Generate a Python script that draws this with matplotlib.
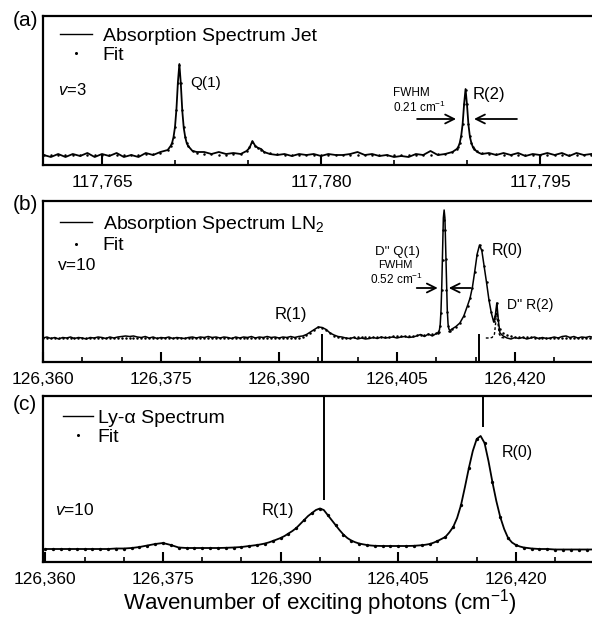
import matplotlib
matplotlib.use('Agg')
import matplotlib.pyplot as plt
from matplotlib.ticker import MultipleLocator, FuncFormatter
from matplotlib.lines import Line2D

plt.rcParams['font.family'] = ['Liberation Sans', 'DejaVu Sans']
plt.rcParams['mathtext.fontset'] = 'custom'
plt.rcParams['mathtext.rm'] = 'Liberation Sans'
plt.rcParams['mathtext.it'] = 'Liberation Sans:italic'
plt.rcParams['mathtext.bf'] = 'Liberation Sans:bold'

# ---------------- Panel (a): jet absorption, v=3 ----------------
wn_a = [117761.0, 117761.5, 117762.0, 117762.5, 117763.0, 117763.5, 117764.0, 117764.5, 117765.0, 117765.5,
        117766.0, 117766.5, 117767.0, 117767.5, 117768.0, 117768.5, 117769.0, 117769.5,
        117769.7, 117769.8, 117769.9, 117770.0, 117770.1, 117770.2, 117770.3, 117770.4, 117770.5, 117770.6,
        117770.7, 117770.8, 117770.9,
        117771.2, 117771.5,
        117772.0, 117772.5, 117773.0, 117773.5, 117774.0, 117774.5,
        117774.9, 117775.1, 117775.3, 117775.5, 117775.7, 117775.9, 117776.1,
        117776.5, 117777.0, 117777.5, 117778.0, 117778.5, 117779.0, 117779.5, 117780.0, 117780.5, 117781.0,
        117781.5, 117782.0, 117782.5, 117783.0, 117783.5, 117784.0, 117784.5, 117785.0, 117785.5, 117786.0,
        117786.5, 117787.0, 117787.5, 117788.0, 117788.5, 117789.0,
        117789.3, 117789.4, 117789.5, 117789.6, 117789.7, 117789.8, 117789.9, 117790.0, 117790.1, 117790.2,
        117790.3, 117790.4, 117790.5,
        117790.7,
        117791.0, 117791.5, 117792.0, 117792.5, 117793.0, 117793.5, 117794.0, 117794.5, 117795.0, 117795.5,
        117796.0, 117796.5, 117797.0, 117797.5, 117798.0, 117798.5]
jet_a = [0.00, -0.02, 0.01, -0.02, 0.01, -0.01, 0.02, -0.02, 0.01, -0.01,
         0.02, -0.02, 0.00, -0.02, 0.02, 0.00, 0.03, 0.05,
         0.09, 0.12, 0.18, 0.28, 0.46, 0.73, 0.91, 0.71, 0.44, 0.27,
         0.18, 0.12, 0.09,
         0.04, 0.03,
         0.03, 0.01, 0.03, 0.01, 0.02, 0.01,
         0.04, 0.07, 0.14, 0.09, 0.07, 0.06, 0.03,
         0.01, 0.00, 0.01, -0.01, 0.01, 0.00, 0.01, -0.01, 0.01, 0.00,
         0.00, 0.01, 0.03, 0.00, 0.01, -0.01, 0.00, -0.02, -0.01, -0.02,
         0.01, 0.00, 0.04, 0.00, 0.01, 0.03,
         0.06, 0.08, 0.12, 0.19, 0.31, 0.51, 0.66, 0.50, 0.30, 0.18,
         0.12, 0.08, 0.06,
         0.03,
         0.01, 0.02, 0.00, 0.02, 0.00, 0.02, -0.01, 0.01, 0.00, 0.02,
         0.00, 0.02, -0.01, 0.02, 0.00, 0.01]
fit_a = [0.0, 0.0, 0.0, 0.0, 0.0, 0.0, 0.0, 0.0, 0.0, 0.0,
         0.0, 0.0, 0.0, 0.002, 0.007, 0.011, 0.021, 0.053,
         0.09, 0.124, 0.18, 0.277, 0.45, 0.72, 0.90, 0.72, 0.45, 0.277,
         0.18, 0.124, 0.09,
         0.042, 0.024,
         0.012, 0.007, 0.004, 0.003, 0.005, 0.01,
         0.04, 0.08, 0.13, 0.09, 0.07, 0.05, 0.03,
         0.015, 0.005, 0.0, 0.0, 0.0, 0.0, 0.0, 0.0, 0.0, 0.0,
         0.0, 0.0, 0.0, 0.0, 0.0, 0.0, 0.0, 0.0, 0.0, 0.0,
         0.0, 0.0, 0.0, 0.007, 0.012, 0.028,
         0.059, 0.082, 0.12, 0.186, 0.308, 0.509, 0.65, 0.509, 0.308, 0.186,
         0.12, 0.082, 0.059,
         0.035,
         0.019, 0.009, 0.006, 0.003, 0.0, 0.0, 0.0, 0.0, 0.0, 0.0,
         0.0, 0.0, 0.0, 0.0, 0.0, 0.0]
ticks_a = [117765, 117780, 117795]

# ---------------- Panel (b): LN2 absorption, v=10 ----------------
wn_b = [126360.0, 126360.5, 126361.0, 126361.5, 126362.0, 126362.5, 126363.0, 126363.5, 126364.0, 126364.5,
        126365.0, 126365.5, 126366.0, 126366.5, 126367.0, 126367.5, 126368.0, 126368.5, 126369.0, 126369.5,
        126370.0, 126370.5, 126371.0, 126371.5, 126372.0, 126372.5, 126373.0, 126373.5, 126374.0, 126374.5,
        126375.0, 126375.5, 126376.0, 126376.5, 126377.0, 126377.5, 126378.0, 126378.5, 126379.0, 126379.5,
        126380.0, 126380.5, 126381.0, 126381.5, 126382.0, 126382.5, 126383.0, 126383.5, 126384.0, 126384.5,
        126385.0, 126385.5, 126386.0, 126386.5, 126387.0, 126387.5, 126388.0, 126388.5, 126389.0, 126389.5,
        126390.0, 126390.5, 126391.0, 126391.5, 126392.0, 126392.5, 126393.0, 126393.5, 126394.0, 126394.5,
        126395.0, 126395.5, 126396.0, 126396.5, 126397.0, 126397.5, 126398.0, 126398.5, 126399.0, 126399.5,
        126400.0, 126400.5, 126401.0, 126401.5, 126402.0, 126402.5, 126403.0, 126403.5, 126404.0, 126404.5,
        126405.0, 126405.5, 126406.0, 126406.5, 126407.0, 126407.5, 126408.0, 126408.5, 126409.0, 126409.5,
        126410.0,
        126410.2, 126410.4, 126410.5, 126410.6, 126410.7, 126410.8, 126410.9, 126411.0, 126411.1, 126411.2,
        126411.3, 126411.4, 126411.5, 126411.6, 126411.8,
        126412.0, 126412.5, 126413.0, 126413.5, 126414.0, 126414.3, 126414.6, 126414.9, 126415.2, 126415.5,
        126415.8, 126416.1, 126416.4, 126416.7, 126417.0, 126417.3, 126417.5, 126417.7, 126417.9, 126418.1,
        126418.5, 126419.0, 126419.5, 126420.0,
        126420.5, 126421.0, 126421.5, 126422.0, 126422.5, 126423.0, 126423.5, 126424.0, 126424.5, 126425.0,
        126425.5, 126426.0, 126426.5, 126427.0, 126427.5, 126428.0, 126428.5, 126429.0, 126429.5, 126430.0]
ln2_b = [0.00, 0.01, -0.005, 0.005, -0.01, 0.005, 0.0, 0.01, -0.005, 0.005,
         0.0, -0.01, 0.005, 0.0, 0.01, 0.005, -0.005, 0.01, 0.0, 0.01,
         0.015, 0.02, 0.015, 0.02, 0.01, 0.005, 0.015, 0.0, 0.01, -0.005,
         0.005, 0.0, 0.01, -0.005, 0.005, 0.0, -0.005, 0.005, 0.01, 0.0,
         0.01, 0.005, 0.015, 0.005, 0.01, 0.0, 0.01, 0.005, -0.005, 0.01,
         0.0, 0.01, 0.005, 0.015, 0.0, 0.01, 0.005, 0.015, 0.005, 0.01,
         0.0, 0.01, 0.005, 0.015, 0.005, 0.015, 0.02, 0.035, 0.06, 0.085,
         0.11, 0.105, 0.085, 0.05, 0.03, 0.015, 0.01, 0.0, -0.005, 0.005,
         -0.01, 0.0, -0.01, -0.005, 0.005, -0.005, 0.01, 0.0, 0.005, 0.01,
         0.0, 0.01, 0.015, 0.005, 0.01, 0.02, 0.035, 0.015, 0.04, 0.02,
         0.045,
         0.05, 0.08, 0.135, 0.27, 0.52, 0.87, 1.20, 1.28, 1.20, 0.88,
         0.53, 0.28, 0.14, 0.09, 0.075,
         0.09, 0.115, 0.15, 0.22, 0.33, 0.40, 0.51, 0.67, 0.84, 0.93,
         0.87, 0.71, 0.55, 0.38, 0.25, 0.16, 0.22, 0.35, 0.17, 0.05,
         0.02, 0.0, -0.01, 0.005,
         -0.005, 0.005, -0.01, 0.0, 0.01, -0.005, 0.005, -0.005, 0.0, 0.01,
         0.0, 0.015, 0.02, 0.005, 0.015, 0.0, 0.01, 0.005, 0.015, 0.005]
fit_b = [0.0, 0.0, 0.0, 0.0, 0.0, 0.0, 0.0, 0.0, 0.0, 0.0,
         0.0, 0.0, 0.0, 0.0, 0.0, 0.0, 0.0, 0.0, 0.0, 0.0,
         0.0, 0.0, 0.0, 0.0, 0.0, 0.0, 0.0, 0.0, 0.0, 0.0,
         0.0, 0.0, 0.0, 0.0, 0.0, 0.0, 0.0, 0.0, 0.0, 0.0,
         0.0, 0.0, 0.0, 0.0, 0.0, 0.0, 0.0, 0.0, 0.0, 0.0,
         0.0, 0.0, 0.0, 0.0, 0.0, 0.0, 0.0, 0.0, 0.0, 0.0,
         0.0, 0.0, 0.0, 0.0, 0.002, 0.005, 0.013, 0.03, 0.055, 0.085,
         0.108, 0.105, 0.08, 0.05, 0.025, 0.011, 0.004, 0.002, 0.005, 0.006,
         0.007, 0.008, 0.009, 0.01, 0.011, 0.012, 0.013, 0.014, 0.015, 0.016,
         0.018, 0.019, 0.021, 0.023, 0.025, 0.028, 0.031, 0.035, 0.04, 0.045,
         0.05,
         0.05, 0.065, 0.12, 0.25, 0.48, 0.78, 1.08, 1.18, 1.08, 0.79,
         0.48, 0.26, 0.12, 0.07, 0.07,
         0.09, 0.11, 0.15, 0.22, 0.32, 0.40, 0.50, 0.66, 0.83, 0.93,
         0.88, 0.72, 0.56, 0.38, 0.26, 0.17, 0.22, 0.35, 0.18, 0.09,
         0.05, 0.03, 0.02, 0.015,
         0.012, 0.01, 0.008, 0.006, 0.005, 0.004, 0.003, 0.002, 0.0, 0.0,
         0.0, 0.0, 0.0, 0.0, 0.0, 0.0, 0.0, 0.0, 0.0, 0.0]
# D'' R(2) component (dashed)
wn_dr2 = [126416.3, 126416.7, 126417.1, 126417.4, 126417.55, 126417.7, 126417.85, 126418.0, 126418.3, 126418.7]
dr2_b = [0.0, 0.0, 0.005, 0.04, 0.15, 0.33, 0.15, 0.04, 0.005, 0.0]
lines_b = [126395.45, 126415.45]
ticks_bc = [126360, 126375, 126390, 126405, 126420]

# ---------------- Panel (c): Ly-alpha spectrum, v=10 ----------------
wn_c = [126360, 126361, 126362, 126363, 126364, 126365, 126366, 126367, 126368, 126369,
        126370, 126371, 126372, 126373, 126374, 126375, 126376, 126377, 126378, 126379,
        126380, 126381, 126382, 126383, 126384, 126385,
        126385.5, 126386.0, 126386.5, 126387.0, 126387.5, 126388.0, 126388.5, 126389.0, 126389.5, 126390.0,
        126390.5, 126391.0, 126391.5, 126392.0, 126392.5, 126393.0, 126393.5, 126394.0, 126394.5, 126395.0,
        126395.5, 126396.0, 126396.5, 126397.0, 126397.5, 126398.0, 126398.5, 126399.0, 126399.5, 126400.0,
        126400.5, 126401.0, 126401.5, 126402.0, 126402.5, 126403.0, 126403.5, 126404.0, 126404.5, 126405.0,
        126405.5, 126406.0, 126406.5, 126407.0, 126407.5, 126408.0, 126408.5, 126409.0, 126409.5, 126410.0,
        126410.5, 126411.0, 126411.5, 126412.0, 126412.5, 126413.0, 126413.5, 126414.0, 126414.5, 126415.0,
        126415.5, 126416.0, 126416.5, 126417.0, 126417.5, 126418.0, 126418.5, 126419.0, 126419.5, 126420.0,
        126420.5, 126421.0,
        126422, 126423, 126424, 126425, 126426, 126427, 126428, 126429, 126430]
lya_c = [0.0, 0.0, 0.0, 0.0, 0.0, 0.0, 0.0, 0.0, 0.0, 0.005,
         0.005, 0.01, 0.02, 0.035, 0.05, 0.06, 0.04, 0.015, 0.01, 0.01,
         0.01, 0.01, 0.01, 0.012, 0.015, 0.02,
         0.025, 0.03, 0.035, 0.04, 0.047, 0.055, 0.066, 0.08, 0.095, 0.11,
         0.13, 0.155, 0.18, 0.21, 0.25, 0.29, 0.33, 0.36, 0.39, 0.405,
         0.39, 0.34, 0.29, 0.24, 0.19, 0.145, 0.11, 0.085, 0.068, 0.055,
         0.047, 0.04, 0.035, 0.032, 0.031, 0.03, 0.03, 0.03, 0.03, 0.03,
         0.03, 0.03, 0.031, 0.032, 0.035, 0.038, 0.043, 0.05, 0.063, 0.08,
         0.10, 0.12, 0.165, 0.22, 0.31, 0.44, 0.62, 0.81, 0.98, 1.10,
         1.13, 1.06, 0.88, 0.67, 0.48, 0.32, 0.20, 0.11, 0.065, 0.04,
         0.025, 0.015,
         0.005, 0.0, 0.0, -0.005, -0.005, -0.005, -0.005, -0.005, -0.005]
wn_c_fit = [126360, 126361, 126362, 126363, 126364, 126365, 126366, 126367, 126368, 126369,
            126370, 126371, 126372, 126373, 126374, 126375, 126376, 126377, 126378, 126379,
            126380, 126381, 126382, 126383, 126384, 126385, 126386, 126387, 126388, 126389,
            126390, 126391, 126392, 126393, 126394, 126395, 126396, 126397, 126398, 126399,
            126400, 126401, 126402, 126403, 126404, 126405, 126406, 126407, 126408, 126409,
            126410, 126411, 126412, 126413, 126414, 126415, 126416, 126417, 126418, 126419,
            126420, 126421, 126422, 126423, 126424, 126425, 126426, 126427, 126428, 126429,
            126430]
fit_c = [0.0, 0.0, 0.0, 0.0, 0.0, 0.0, 0.0, 0.0, 0.0, 0.005,
         0.005, 0.01, 0.02, 0.035, 0.05, 0.058, 0.04, 0.015, 0.01, 0.01,
         0.01, 0.01, 0.01, 0.012, 0.015, 0.02, 0.03, 0.04, 0.055, 0.08,
         0.11, 0.155, 0.21, 0.29, 0.36, 0.405, 0.34, 0.24, 0.145, 0.085,
         0.055, 0.04, 0.032, 0.03, 0.03, 0.03, 0.03, 0.032, 0.038, 0.05,
         0.08, 0.12, 0.22, 0.44, 0.81, 1.10, 1.06, 0.67, 0.32, 0.11,
         0.04, 0.015, 0.005, 0.0, 0.0, -0.005, -0.005, -0.005, -0.005, -0.005,
         -0.005]
lines_c = [126395.55, 126415.8]
lines_c_bottom = [0.49, 1.22]

# ---------------- Figure ----------------
fig = plt.figure(figsize=(5.92, 6.17), dpi=100)
L = 43 / 592
axA = fig.add_axes([L, 1 - 165 / 617, 1 - L, 149 / 617])
axB = fig.add_axes([L, 1 - 362 / 617, 1 - L, 161 / 617])
axC = fig.add_axes([L, 1 - 562 / 617, 1 - L, 166 / 617])

fmt = FuncFormatter(lambda v, p: f'{v:,.0f}')


def style(ax, xlim, ylim, majors):
    ax.set_xlim(*xlim)
    ax.set_ylim(*ylim)
    ax.spines['right'].set_visible(False)
    for s in ['left', 'top', 'bottom']:
        ax.spines[s].set_linewidth(1.6)
    ax.set_yticks([])
    ax.set_xticks(majors)
    ax.xaxis.set_minor_locator(MultipleLocator(5))
    ax.xaxis.set_major_formatter(fmt)
    ax.tick_params(axis='x', which='major', direction='in', length=7, width=1.5,
                   labelsize=12.5, pad=7)
    ax.tick_params(axis='x', which='minor', direction='in', length=3.5, width=1.2)


style(axA, (117760.96, 117798.56), (-0.10, 1.39), ticks_a)
style(axB, (126360.0, 126429.8), (-0.24, 1.37), ticks_bc)
style(axC, (126359.7, 126429.7), (-0.13, 1.53), ticks_bc)


def handles():
    return [Line2D([], [], color='black', lw=1.0),
            Line2D([], [], ls='none', marker='o', ms=2.2, mew=0, color='black')]


leg_kw = dict(loc='upper left', frameon=False, fontsize=14, labelspacing=0.08,
              borderpad=0, borderaxespad=0)

# Panel (a)
axA.plot(wn_a, jet_a, color='black', lw=1.3)
axA.plot(wn_a, fit_a, ls='none', marker='o', ms=1.8, mew=0, color='black')
axA.legend(handles(), ['Absorption Spectrum Jet', 'Fit'], bbox_to_anchor=(0.031, 0.925),
           handlelength=1.65, handletextpad=0.55, **leg_kw)
axA.text(117771.03, 0.72, 'Q(1)', fontsize=11, va='center', ha='left')
axA.text(117790.41, 0.60, 'R(2)', fontsize=12, va='center', ha='left')
axA.text(117784.93, 0.62, 'FWHM', fontsize=8.5, va='center', ha='left')
axA.text(117784.93, 0.48, '0.21 cm$^{-1}$', fontsize=8.5, va='center', ha='left')
axA.text(0.027, 0.503, '$v$=3', transform=axA.transAxes, fontsize=12, va='center', ha='left')
arrow = dict(arrowstyle='->', color='black', lw=1.3, mutation_scale=16, shrinkA=0, shrinkB=0)
axA.annotate('', xy=(117789.25, 0.36), xytext=(117786.58, 0.36), arrowprops=arrow)
axA.annotate('', xy=(117790.48, 0.36), xytext=(117793.42, 0.36), arrowprops=arrow)

# Panel (b)
axB.plot(wn_b, ln2_b, color='black', lw=1.1)
axB.plot(wn_b, fit_b, ls='none', marker='o', ms=1.8, mew=0, color='black')
axB.plot(wn_dr2, dr2_b, color='black', lw=1.0, ls=(0, (2, 1.5)))
axB.vlines(lines_b, -0.24, 0.045, color='black', lw=1.4)
axB.legend(handles(), ['Absorption Spectrum LN$_2$', 'Fit'], bbox_to_anchor=(0.031, 0.918),
           handlelength=1.65, handletextpad=0.55, **leg_kw)
axB.text(126391.5, 0.24, 'R(1)', fontsize=12, va='center', ha='center')
axB.text(126405.0, 0.86, "D'' Q(1)", fontsize=9.5, va='center', ha='center')
axB.text(126404.85, 0.73, 'FWHM', fontsize=8, va='center', ha='center')
axB.text(126405.0, 0.59, '0.52 cm$^{-1}$', fontsize=8.5, va='center', ha='center')
axB.text(126417.05, 0.88, 'R(0)', fontsize=11.5, va='center', ha='left')
axB.text(126418.96, 0.33, "D'' R(2)", fontsize=10, va='center', ha='left')
axB.text(0.027, 0.602, 'v=10', transform=axB.transAxes, fontsize=12.5, va='center', ha='left')
axB.annotate('', xy=(126410.19, 0.50), xytext=(126407.52, 0.50), arrowprops=arrow)
axB.annotate('', xy=(126411.59, 0.50), xytext=(126414.38, 0.50), arrowprops=arrow)

# Panel (c)
axC.plot(wn_c, lya_c, color='black', lw=1.3)
axC.plot(wn_c_fit, fit_c, ls='none', marker='o', ms=2.4, mew=0, color='black')
axC.vlines(lines_c, lines_c_bottom, 1.53, color='black', lw=1.4)
axC.legend(handles(), ['Ly-α Spectrum', 'Fit'], bbox_to_anchor=(0.036, 0.92),
           handlelength=1.55, handletextpad=0.25, **leg_kw)
axC.text(126389.7, 0.39, 'R(1)', fontsize=12, va='center', ha='center')
axC.text(126418.25, 0.96, 'R(0)', fontsize=11.5, va='center', ha='left')
axC.text(0.022, 0.313, '$v$=10', transform=axC.transAxes, fontsize=12.5, va='center', ha='left')

# Panel letters and shared x label
fig.text(13 / 592, 1 - 20 / 617, '(a)', fontsize=15, va='center', ha='left')
fig.text(13 / 592, 1 - 205 / 617, '(b)', fontsize=15, va='center', ha='left')
fig.text(13 / 592, 1 - 405 / 617, '(c)', fontsize=15, va='center', ha='left')
fig.text(0.54, 1 - 610 / 617, 'Wavenumber of exciting photons (cm$^{-1}$)',
         fontsize=16, va='baseline', ha='center')

fig.savefig('out.png', dpi=100)
